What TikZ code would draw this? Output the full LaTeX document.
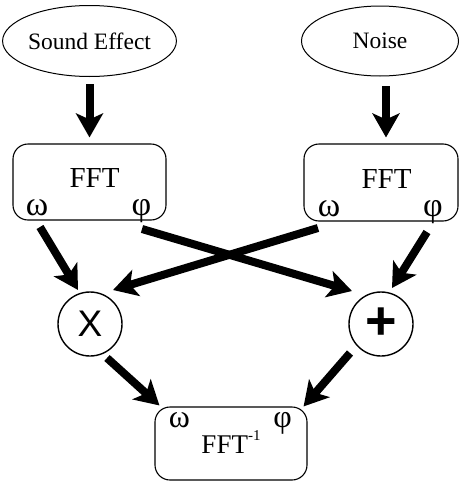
\documentclass[tikz,border=0pt]{standalone}
\usepackage{fontspec}
\setmainfont{Liberation Serif}
\newfontfamily\opsans{Liberation Sans}
\usetikzlibrary{arrows.meta,shapes.geometric,calc}
\begin{document}
\begin{tikzpicture}[x=1pt,y=-1pt,
  src/.style={ellipse,draw,line width=1pt,inner sep=0pt,font=\rmfamily\fontsize{23.5}{28}\selectfont},
  fftbox/.style={draw,line width=1.1pt,rounded corners=15pt,inner sep=0pt},
  bigtxt/.style={font=\rmfamily\fontsize{29}{32}\selectfont,inner sep=0pt,anchor=base},
  greek/.style={font=\rmfamily\fontsize{34}{36}\selectfont,inner sep=0pt,anchor=base},
  op/.style={circle,draw,line width=1.4pt,minimum size=64pt,inner sep=0pt},
  arr/.style={line width=8pt,-{Stealth[length=24pt,width=27pt,inset=6pt]}}
]
\useasboundingbox (0,0) rectangle (459,482);
% sources
\node[src,minimum width=161pt,minimum height=71pt] (se) at (89.5,41) {Sound Effect};
\node[src,minimum width=157pt,minimum height=70pt] (noise) at (380,41) {Noise};
% FFT boxes
\node[fftbox,minimum width=153pt,minimum height=76pt] (fft1) at (89.5,182) {};
\node[bigtxt] (fft1t) at (94.5,187) {FFT};
\node[greek] (w1) at (37,215) {ω};
\node[greek] (p1) at (141.5,215) {φ};
\node[fftbox,minimum width=154pt,minimum height=77pt] (fft2) at (381,182.5) {};
\node[bigtxt] (fft2t) at (386.5,188) {FFT};
\node[greek] (w2) at (329,216) {ω};
\node[greek] (p2) at (433,216) {φ};
% operators
\node[op] (mul) at (90,324) {\opsans\fontsize{37}{37}\selectfont X};
\node[op] (add) at (381,324) {\opsans\bfseries\fontsize{54}{54}\selectfont +};
% inverse FFT box
\node[fftbox,minimum width=152pt,minimum height=73pt] (inv) at (231,443.5) {};
\node[bigtxt,font=\rmfamily\fontsize{27}{30}\selectfont] (invt) at (231,453) {FFT\raisebox{13pt}{\fontsize{15}{15}\selectfont -1}};
\node[greek,font=\rmfamily\fontsize{32}{34}\selectfont] (w3) at (179.5,427) {ω};
\node[greek,font=\rmfamily\fontsize{32}{34}\selectfont] (p3) at (282.5,427) {φ};
% connector ends
\coordinate (a2) at (386,0);
\coordinate (w1o) at (40,227);
\coordinate (p1o) at (142,229);
\coordinate (w2o) at (318,228);
\coordinate (p2o) at (427,232);
\coordinate (mulin1) at ($(mul)+(-12,-34)$);
\coordinate (mulin2) at ($(mul)+(23,-34)$);
\coordinate (addin1) at ($(add)+(-29,-33)$);
\coordinate (addin2) at ($(add)+(11,-36)$);
\coordinate (mulout) at ($(mul)+(17,34)$);
\coordinate (addout) at ($(add)+(-31,29)$);
\coordinate (invin1) at ($(inv.north west)+(5,-1)$);
\coordinate (invin2) at ($(inv.north east)+(-4,0)$);
% connectors
\draw[arr,shorten <=7pt,shorten >=6pt] (se.south) -- (fft1.north);
\draw[arr,shorten <=9.5pt,shorten >=6pt] (noise.south -| a2) -- (fft2.north -| a2);
\draw[arr] (w1o) -- (mulin1);
\draw[arr] (p1o) -- (addin1);
\draw[arr] (w2o) -- (mulin2);
\draw[arr] (p2o) -- (addin2);
\draw[arr] (mulout) -- (invin1);
\draw[arr] (addout) -- (invin2);
\end{tikzpicture}
\end{document}
